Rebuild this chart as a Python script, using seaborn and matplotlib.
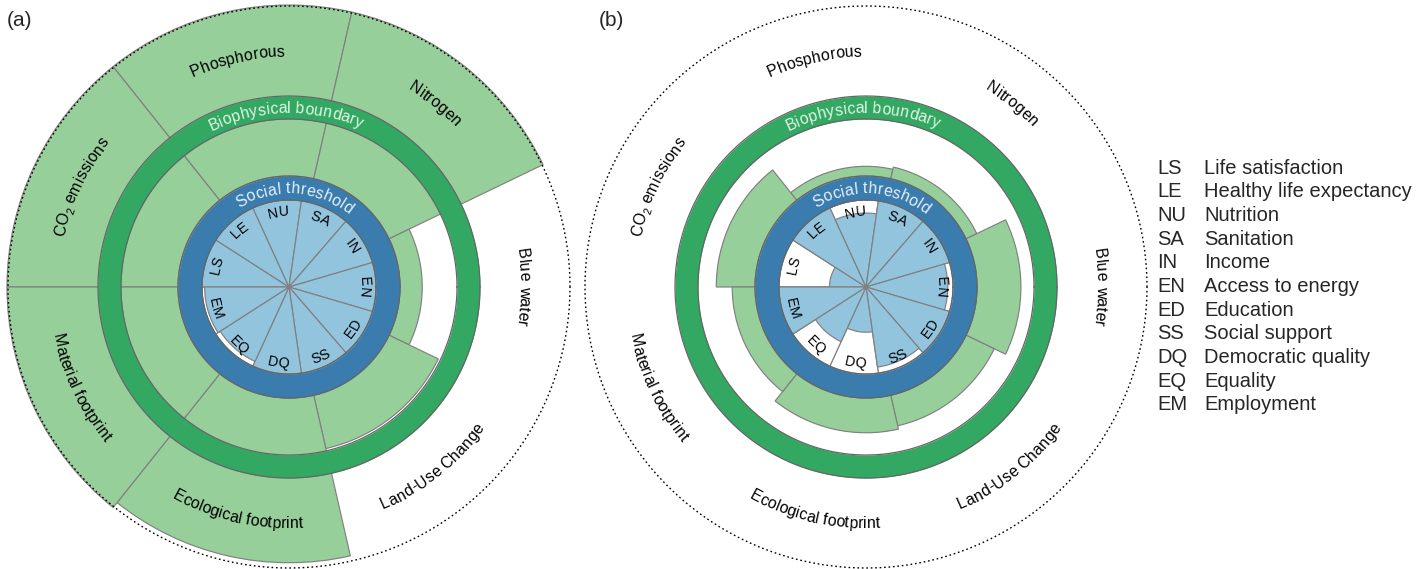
import numpy as np
import matplotlib
matplotlib.use("Agg")
import matplotlib.pyplot as plt
import seaborn as sns
from matplotlib.font_manager import FontProperties

sns.set_theme(style="white")
FONT = ["Liberation Sans", "DejaVu Sans"]
plt.rcParams["font.family"] = FONT

# ---- data -------------------------------------------------------------
social_codes = ["LS", "LE", "NU", "SA", "IN", "EN", "ED", "SS", "DQ", "EQ", "EM"]
social_names = ["Life satisfaction", "Healthy life expectancy", "Nutrition",
                "Sanitation", "Income", "Access to energy", "Education",
                "Social support", "Democratic quality", "Equality", "Employment"]
bio_names = ["CO\u2082 emissions", "Phosphorous", "Nitrogen", "Blue water",
             "Land-Use Change", "Ecological footprint", "Material footprint"]

# social achievement relative to threshold (1 = threshold met)
social_a = [1.0, 1.0, 1.0, 1.0, 1.0, 1.0, 1.0, 1.0, 1.0, 0.94, 0.97]
social_b = [0.42, 1.0, 0.85, 1.0, 1.0, 0.94, 1.0, 0.93, 0.52, 0.69, 1.0]
# biophysical use relative to boundary (1 = boundary), shown up to 3x
bio_a = [3.0, 3.0, 3.0, 0.39, 0.96, 2.89, 3.0]
bio_b = [0.68, 0.17, 0.21, 0.77, 0.55, 0.61, 0.40]

panel_tags = ["(a)", "(b)"]

# ---- styling ----------------------------------------------------------
W, H, DPI = 1423, 569, 100
R_SOC_IN, R_SOC_OUT = 87, 111
R_BIO_IN, R_BIO_OUT = 168, 191
R_OUTER = 281
BIO_CAP = 3.0
R_LIM = 285

C_LIGHT_GREEN = "#97cf9b"
C_GREEN = "#33a862"
C_BLUE = "#3a7cad"
C_LIGHT_BLUE = "#92c4de"
C_EDGE = "#808080"
C_RING_EDGE = "#666666"

fig = plt.figure(figsize=(W / DPI, H / DPI), dpi=DPI)
renderer = fig.canvas.get_renderer()


def advance(s, size):
    fp = FontProperties(family=FONT, size=size)
    w1 = renderer.get_text_width_height_descent(s + "|", fp, ismath=False)[0]
    w0 = renderer.get_text_width_height_descent("|", fp, ismath=False)[0]
    return w1 - w0


def arc_text(ax, s, theta_deg, r_mid, size, color, outward, ppu, spread=1.02):
    toks = []
    for ch in s:
        if ch == "\u2082":
            toks.append(("2", 0.68, -0.22))
        else:
            toks.append((ch, 1.0, 0.0))
    fs_u = size * DPI / 72 / ppu
    advs = [spread * advance(c, size * sc) / ppu for c, sc, _ in toks]
    total = sum(advs)
    r_base = r_mid - 0.34 * fs_u if outward else r_mid + 0.34 * fs_u
    pos = -total / 2
    for (c, sc, sh), a in zip(toks, advs):
        mid = pos + a / 2
        pos += a
        if c == " ":
            continue
        if outward:
            ang = np.radians(theta_deg) - mid / r_base
            rot = np.degrees(ang) - 90
            rb = r_base + sh * fs_u
        else:
            ang = np.radians(theta_deg) + mid / r_base
            rot = np.degrees(ang) + 90
            rb = r_base - sh * fs_u
        ax.text(ang, rb, c, rotation=rot, rotation_mode="anchor",
                ha="center", va="baseline", fontsize=size * sc,
                color=color, zorder=10)


def sector_centers(n):
    step = 360.0 / n
    return np.array([180 - (i + 0.5) * step for i in range(n)]), step


def ring(ax, r0, r1, color, z):
    th = np.linspace(0, 2 * np.pi, 721)
    ax.fill_between(th, r0, r1, color=color, lw=0, zorder=z)
    ax.plot(th, np.full_like(th, r0), color=C_RING_EDGE, lw=0.9, zorder=z + 0.1)
    ax.plot(th, np.full_like(th, r1), color=C_RING_EDGE, lw=0.9, zorder=z + 0.1)


def draw_panel(ax, soc_vals, bio_vals):
    ax.set_ylim(0, R_LIM)
    ax.set_xticks([])
    ax.set_yticks([])
    ax.grid(False)
    ax.spines["polar"].set_visible(False)
    ax.set_facecolor("none")

    p0 = ax.transData.transform((0, 0))
    p1 = ax.transData.transform((0, 100))
    ppu = np.hypot(*(p1 - p0)) / 100

    # biophysical sectors
    bc, bstep = sector_centers(len(bio_names))
    bio_r = np.minimum(np.array(bio_vals), BIO_CAP) * (R_BIO_IN - R_SOC_OUT)
    ax.bar(np.radians(bc), bio_r, width=np.radians(bstep), bottom=R_SOC_OUT,
           color=C_LIGHT_GREEN, edgecolor=C_EDGE, linewidth=0.85, zorder=2)

    ring(ax, R_BIO_IN, R_BIO_OUT, C_GREEN, 3)

    # social sectors: outline up to threshold, filled to achievement
    sc, sstep = sector_centers(len(social_codes))
    ax.bar(np.radians(sc), np.full(len(sc), R_SOC_IN), width=np.radians(sstep),
           bottom=0, color="white", edgecolor=C_EDGE, linewidth=0.85, zorder=4)
    soc_r = np.minimum(np.array(soc_vals), 1.0) * R_SOC_IN
    ax.bar(np.radians(sc), soc_r, width=np.radians(sstep), bottom=0,
           color=C_LIGHT_BLUE, edgecolor=C_EDGE, linewidth=0.85, zorder=5)

    ring(ax, R_SOC_IN, R_SOC_OUT, C_BLUE, 6)

    th = np.linspace(0, 2 * np.pi, 721)
    ax.plot(th, np.full_like(th, R_OUTER), color="black", lw=1.0,
            ls=(0, (1.2, 2.0)), zorder=7)

    for name, ang in zip(bio_names, bc):
        arc_text(ax, name, ang, 236, 11.4, "black", ang >= 0, ppu)
    for code, ang in zip(social_codes, sc):
        arc_text(ax, code, ang, 76, 10.3, "black", ang >= 0, ppu)

    arc_text(ax, "Biophysical boundary", 91, (R_BIO_IN + R_BIO_OUT) / 2,
             11.4, "#e2f5e4", True, ppu)
    arc_text(ax, "Social threshold", 86.5, (R_SOC_IN + R_SOC_OUT) / 2,
             11.5, "#e6f0f8", True, ppu)


centers = [(289, 287), (866, 287)]
for (cx, cy), soc, bio in zip(centers, [social_a, social_b], [bio_a, bio_b]):
    left = (cx - R_LIM) / W
    bottom = (H - cy - R_LIM) / H
    ax = fig.add_axes([left, bottom, 2 * R_LIM / W, 2 * R_LIM / H],
                      projection="polar")
    draw_panel(ax, soc, bio)

for tag, x in zip(panel_tags, [7, 599]):
    fig.text(x / W, 1 - 20 / H, tag, ha="left", va="center", fontsize=15)

# abbreviation key
y0, dy = 168, 23.7
for i, (code, name) in enumerate(zip(social_codes, social_names)):
    y = 1 - (y0 + i * dy) / H
    fig.text(1157 / W, y, code, ha="left", va="center", fontsize=14.5)
    fig.text(1204 / W, y, name, ha="left", va="center", fontsize=14.5)

fig.savefig("out.png", dpi=DPI, facecolor="white")
